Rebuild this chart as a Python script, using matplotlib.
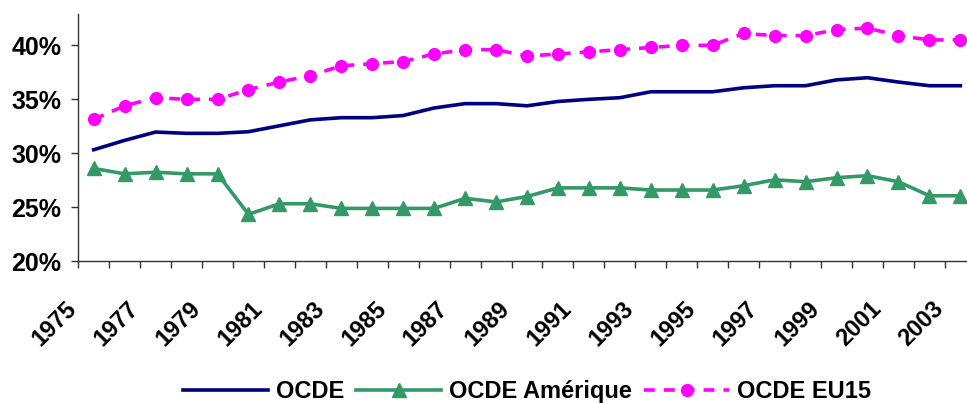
import matplotlib
matplotlib.use("Agg")
import matplotlib.pyplot as plt
from matplotlib.transforms import ScaledTranslation
from matplotlib.ticker import FixedLocator, FuncFormatter

years = list(range(1975, 2004))
ocde = [30.33, 31.2, 31.97, 31.85, 31.85, 32.0, 32.55, 33.1, 33.3, 33.3,
        33.5, 34.2, 34.6, 34.6, 34.4, 34.8, 35.0, 35.15, 35.7, 35.7,
        35.7, 36.07, 36.26, 36.26, 36.8, 37.0, 36.6, 36.26, 36.26]
ocde_amerique = [28.6, 28.1, 28.25, 28.1, 28.1, 24.35, 25.33, 25.33, 24.9, 24.9,
                 24.9, 24.9, 25.83, 25.5, 26.0, 26.8, 26.8, 26.8, 26.6, 26.6,
                 26.6, 27.0, 27.55, 27.37, 27.74, 27.93, 27.37, 26.07, 26.07]
ocde_eu15 = [33.15, 34.4, 35.15, 35.0, 35.0, 35.9, 36.6, 37.2, 38.1, 38.3,
             38.5, 39.2, 39.6, 39.6, 39.0, 39.2, 39.4, 39.6, 39.8, 40.0,
             40.0, 41.1, 40.9, 40.9, 41.45, 41.6, 40.9, 40.5, 40.5]
series_names = ["OCDE", "OCDE Amérique", "OCDE EU15"]
y_ticks = [20, 25, 30, 35, 40]

plt.rcParams['font.family'] = ['Liberation Sans', 'DejaVu Sans']
plt.rcParams['font.weight'] = 'bold'

fig = plt.figure(figsize=(9.67, 4.04), dpi=100)
ax = fig.add_axes([0.0809, 0.3532, 0.9282, 0.6121])

x = list(range(len(years)))
ax.plot(x, ocde, color='#000080', lw=2.6, label=series_names[0])
ax.plot(x, ocde_amerique, color='#339966', lw=2.6, marker='^', ms=9.5,
        label=series_names[1])
ax.plot(x, ocde_eu15, color='#FF00FF', lw=2.6, marker='o', ms=8.5,
        dashes=(3, 2.5), label=series_names[2])

ax.set_xlim(-0.5, len(years) - 0.5)
ax.set_ylim(20, 42.9)

for s in ['top', 'right']:
    ax.spines[s].set_visible(False)
for s in ['left', 'bottom']:
    ax.spines[s].set_color('#333333')
    ax.spines[s].set_linewidth(1)

ax.set_yticks(y_ticks)
ax.yaxis.set_major_formatter(FuncFormatter(lambda v, p: f"{int(v)}%"))
ax.tick_params(axis='y', direction='out', length=5, width=1, color='#333333',
               labelsize=18, pad=7)

label_pos = [i for i, yr in enumerate(years) if yr % 2 == 1]
ax.xaxis.set_major_locator(FixedLocator(label_pos))
ax.set_xticklabels([str(years[i]) for i in label_pos], rotation=45, ha='right',
                   fontsize=17, fontweight='bold')
ax.xaxis.set_minor_locator(FixedLocator([i - 0.5 for i in range(len(years) + 1)]))
ax.tick_params(axis='x', which='major', length=0, pad=26)
ax.tick_params(axis='x', which='minor', direction='out', length=5, width=1,
               color='#333333')
for lab in ax.get_xticklabels():
    lab.set_transform(lab.get_transform() + ScaledTranslation(-9 / 72, 0, fig.dpi_scale_trans))
for lab in ax.get_yticklabels():
    lab.set_fontweight('bold')

leg = fig.legend(loc='center', bbox_to_anchor=(0.545, 0.031), ncol=3, frameon=False,
                 handlelength=3.6, handletextpad=0.35,
                 columnspacing=0.5, prop={'weight': 'bold', 'size': 17})

fig.savefig('out.png', dpi=100)
